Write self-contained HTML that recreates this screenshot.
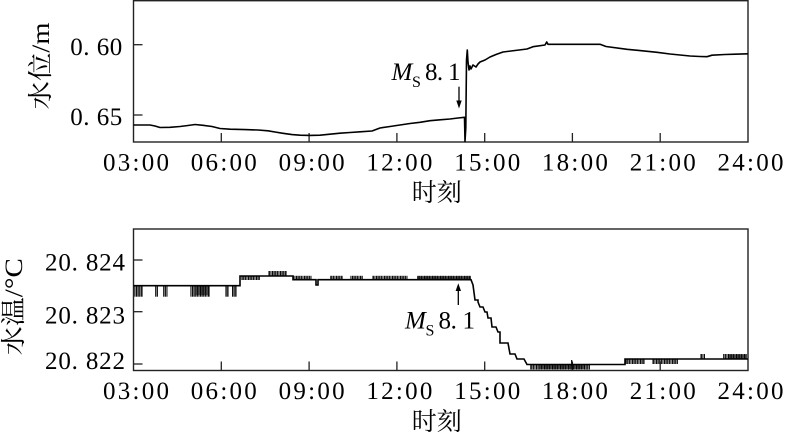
<!DOCTYPE html>
<html><head><meta charset="utf-8"><style>
html,body{margin:0;padding:0;background:#fff;}
svg{display:block;font-family:"Liberation Serif","Noto Serif CJK SC","AR PL UMing CN","Noto Sans CJK SC",serif;}
svg text{font-family:"Liberation Serif","Noto Serif CJK SC","AR PL UMing CN","Noto Sans CJK SC",serif;fill:#000;}
</style></head><body>
<svg width="785" height="438" viewBox="0 0 785 438" xmlns="http://www.w3.org/2000/svg" font-family="'Liberation Serif','Noto Serif CJK SC',serif">
<defs>
<pattern id="vl" patternUnits="userSpaceOnUse" width="1.6" height="20"><rect x="0" y="0" width="1.1" height="20" fill="#000"/></pattern>
</defs>
<rect width="785" height="438" fill="#fff"/>

<!-- TOP PANEL -->
<rect x="133.5" y="0.7" width="614.5" height="141.3" fill="none" stroke="#222" stroke-width="1.4"/>
<g stroke="#222" stroke-width="1.3">
<line x1="133.5" y1="44.7" x2="142.5" y2="44.7"/>
<line x1="133.5" y1="115" x2="142.5" y2="115"/>
<line x1="221.3" y1="142" x2="221.3" y2="133"/>
<line x1="309.1" y1="142" x2="309.1" y2="133"/>
<line x1="396.9" y1="142" x2="396.9" y2="133"/>
<line x1="484.7" y1="142" x2="484.7" y2="133"/>
<line x1="572.4" y1="142" x2="572.4" y2="133"/>
<line x1="660.2" y1="142" x2="660.2" y2="133"/>
</g>
<polyline fill="none" stroke="#000" stroke-width="1.6" stroke-linejoin="round" points="133.5,125 150,125 155,126 160,127.5 170,127.3 180,126.5 188,125.5 195,124.5 203,125.3 212,126.5 220,128.5 230,129.2 245,129.6 258,130 268,130.8 275,132 283,133.3 292,134.6 300,135.2 310,135.4 320,135.2 330,134.2 340,133.2 350,132.5 360,131.8 372,131 380,128 390,126.5 400,125 410,123.5 420,122.3 430,120.7 440,119.8 450,119 458,118 464.5,117.3 465,141.5 465.8,128 466.5,60 467.3,50 468,62 469,70 470,66 471,69 473,65 476,67 478,64 480,62 485,60 490,57 496,54.5 503,52 515,50.5 527,49 533,46.7 545,45 546.7,42 548,44.3 600,44.3 606,46.5 627,49.3 640,50.6 657,52.3 670,54 690,56 700,56.5 707,56.7 712,55.2 725,54.5 735,54.2 748,53.8"/>

<text x="122.3" y="55" font-size="25" text-anchor="end" textLength="52" lengthAdjust="spacing">0. 60</text>
<text x="122.3" y="125" font-size="25" text-anchor="end" textLength="52" lengthAdjust="spacing">0. 65</text>
<g font-size="25" text-anchor="middle">
<text x="136" y="170.7" textLength="66" lengthAdjust="spacing">03:00</text>
<text x="223.8" y="170.7" textLength="66" lengthAdjust="spacing">06:00</text>
<text x="311.6" y="170.7" textLength="66" lengthAdjust="spacing">09:00</text>
<text x="399.4" y="170.7" textLength="66" lengthAdjust="spacing">12:00</text>
<text x="487.2" y="170.7" textLength="66" lengthAdjust="spacing">15:00</text>
<text x="574.9" y="170.7" textLength="66" lengthAdjust="spacing">18:00</text>
<text x="662.7" y="170.7" textLength="66" lengthAdjust="spacing">21:00</text>
<text x="750.5" y="170.7" textLength="66" lengthAdjust="spacing">24:00</text>
</g>
<text x="436.7" y="201" font-size="25" text-anchor="middle">时刻</text>
<text transform="translate(49,66) rotate(-90)" font-size="25" text-anchor="middle" textLength="87" lengthAdjust="spacingAndGlyphs">水位/m</text>

<text x="391.5" y="80" font-size="25" font-style="italic">M</text>
<text x="412" y="87" font-size="16">S</text>
<text x="425" y="80" font-size="25" textLength="35.5" lengthAdjust="spacing">8. 1</text>
<line x1="459" y1="86.7" x2="459" y2="104" stroke="#000" stroke-width="1.3"/>
<polygon points="456.3,100.5 461.7,100.5 459,108.5" fill="#000"/>

<!-- BOTTOM PANEL -->
<rect x="133.5" y="229" width="614.5" height="141.5" fill="none" stroke="#222" stroke-width="1.4"/>
<g stroke="#222" stroke-width="1.3">
<line x1="133.5" y1="260" x2="142.5" y2="260"/>
<line x1="133.5" y1="311.7" x2="142.5" y2="311.7"/>
<line x1="133.5" y1="364" x2="142.5" y2="364"/>
<line x1="221.3" y1="370.5" x2="221.3" y2="361.5"/>
<line x1="309.1" y1="370.5" x2="309.1" y2="361.5"/>
<line x1="396.9" y1="370.5" x2="396.9" y2="361.5"/>
<line x1="484.7" y1="370.5" x2="484.7" y2="361.5"/>
<line x1="572.4" y1="370.5" x2="572.4" y2="361.5"/>
<line x1="660.2" y1="370.5" x2="660.2" y2="361.5"/>
</g>
<!-- noise -->
<g fill="url(#vl)">
<rect x="134" y="285.7" width="9" height="11"/>
<rect x="155" y="285.7" width="3" height="11"/>
<rect x="163" y="285.7" width="5" height="11"/>
<rect x="190" y="285.7" width="20" height="11"/>
<rect x="225" y="285.7" width="4" height="11"/>
<rect x="232" y="285.7" width="5" height="11"/>
<rect x="241" y="276" width="19" height="4"/>
<rect x="268" y="271" width="19" height="5"/>
<rect x="293" y="275.8" width="19" height="4"/>
<rect x="330" y="275.8" width="13" height="4"/>
<rect x="350" y="275.8" width="13" height="4"/>
<rect x="372" y="275.8" width="36" height="4"/>
<rect x="417" y="275.8" width="54" height="4"/>
<rect x="530" y="364.5" width="60" height="5"/>
<rect x="625" y="359" width="20" height="5"/>
<rect x="652" y="359" width="26" height="5"/>
<rect x="700" y="354" width="5" height="5"/>
<rect x="723" y="354" width="24" height="5"/>
</g>
<g fill="#000" opacity="0.45">
<rect x="196" y="286" width="12" height="9"/>
<rect x="417" y="276.2" width="54" height="3"/>
<rect x="540" y="365" width="45" height="4"/>
<rect x="728" y="354.5" width="18" height="4"/>
</g>
<path fill="none" stroke="#000" stroke-width="1.6" stroke-linejoin="miter" d="M133.5,285.7 H240 V276 H293 V279.7 H316 V285 H318 V279.7 H471 L473,285 L475,300 H478 V302 L480,307 H483 L485,312 H487 L488,318 H491 L492,327 H496 L498,332 H500 V343 H508 L510,354 H515 L517,359 H524 L527,364.5 H625 V359 H748"/>
<line x1="571.7" y1="360" x2="571.7" y2="366" stroke="#000" stroke-width="1.2"/>

<g font-size="25" text-anchor="end">
<text x="125" y="270.7" textLength="80" lengthAdjust="spacing">20. 824</text>
<text x="125" y="323.3" textLength="80" lengthAdjust="spacing">20. 823</text>
<text x="125" y="369" textLength="80" lengthAdjust="spacing">20. 822</text>
</g>
<g font-size="25" text-anchor="middle">
<text x="136" y="399" textLength="66" lengthAdjust="spacing">03:00</text>
<text x="223.8" y="399" textLength="66" lengthAdjust="spacing">06:00</text>
<text x="311.6" y="399" textLength="66" lengthAdjust="spacing">09:00</text>
<text x="399.4" y="399" textLength="66" lengthAdjust="spacing">12:00</text>
<text x="487.2" y="399" textLength="66" lengthAdjust="spacing">15:00</text>
<text x="574.9" y="399" textLength="66" lengthAdjust="spacing">18:00</text>
<text x="662.7" y="399" textLength="66" lengthAdjust="spacing">21:00</text>
<text x="750.5" y="399" textLength="66" lengthAdjust="spacing">24:00</text>
</g>
<text x="436.7" y="430" font-size="25" text-anchor="middle">时刻</text>
<text transform="translate(22,306.7) rotate(-90)" font-size="25" text-anchor="middle" textLength="97" lengthAdjust="spacingAndGlyphs">水温/°C</text>

<text x="405" y="328.3" font-size="25" font-style="italic">M</text>
<text x="425.5" y="335.5" font-size="16">S</text>
<text x="438.5" y="328.3" font-size="25" textLength="36.5" lengthAdjust="spacing">8. 1</text>
<line x1="458.3" y1="305" x2="458.3" y2="288" stroke="#000" stroke-width="1.3"/>
<polygon points="455.6,291 461,291 458.3,283.3" fill="#000"/>
</svg>
</body></html>
